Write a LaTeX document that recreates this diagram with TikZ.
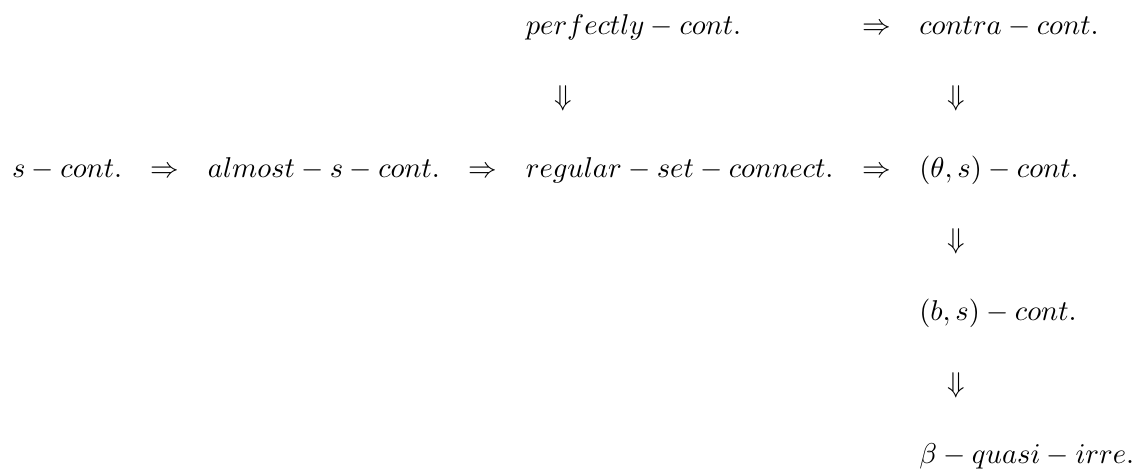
\documentclass[tikz,border=0pt]{standalone}
\usetikzlibrary{positioning, calc}

\begin{document}
\begin{tikzpicture}[x=1pt, y=1pt, node distance=10pt,
    every node/.style={inner sep=0pt, outer sep=0pt},
    txt/.style={anchor=base west}]
  \useasboundingbox (0,0) rectangle (397,-164.6);
  % middle row
  \node[txt] (scont) at (4.2,-62) {$s-cont.$};
  \node[base right=of scont] (imp1) {$\Rightarrow$};
  \node[base right=of imp1] (almost) {$almost-s-cont.$};
  \node[base right=of almost] (imp2) {$\Rightarrow$};
  \node[base right=of imp2] (regular) {$regular-set-connect.$};
  \node[base right=of regular] (imp3) {$\Rightarrow$};
  \node[base right=of imp3] (theta) {$(\theta,s)-cont.$};
  % top row
  \node[txt] (perf) at ($(regular.base west)+(0,50)$) {$perfectly-cont.$};
  \node[txt] (imp4) at (imp3.base west |- perf.base) {$\Rightarrow$};
  \node[txt] (contra) at (theta.base west |- perf.base) {$contra-cont.$};
  % right column
  \node[txt] (bs) at ($(theta.base west)+(0,-50)$) {$(b,s)-cont.$};
  \node[txt] (beta) at ($(bs.base west)+(0,-50)$) {$\beta-quasi-irre.$};
  % downward implications
  \node[txt] (down1) at ($(perf.base west)+(10,-25)$) {$\Downarrow$};
  \node[txt] (down2) at ($(contra.base west)+(10,-25)$) {$\Downarrow$};
  \node[txt] (down3) at ($(theta.base west)+(10,-25)$) {$\Downarrow$};
  \node[txt] (down4) at ($(bs.base west)+(10,-25)$) {$\Downarrow$};
\end{tikzpicture}
\end{document}
